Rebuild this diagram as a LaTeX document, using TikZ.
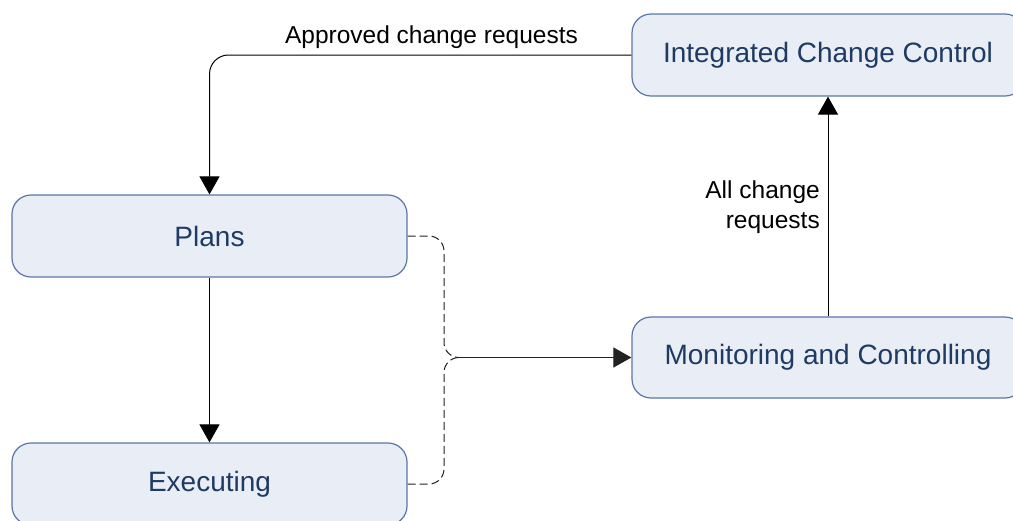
\documentclass[tikz,border=0pt]{standalone}
\usepackage{fontspec}
\setmainfont{Liberation Sans}
\usetikzlibrary{arrows.meta}
\definecolor{boxfill}{HTML}{E9EDF5}
\definecolor{boxline}{HTML}{5A76A8}
\definecolor{boxtext}{HTML}{1F3B64}
\definecolor{dashcol}{HTML}{222222}
\tikzset{
  procbox/.style={draw=boxline, line width=1.2pt, fill=boxfill, rounded corners=19pt,
    text=boxtext, font=\fontsize{28}{34}\selectfont, inner sep=0pt},
  lbl/.style={font=\fontsize{24.5}{30}\selectfont, text=black, inner sep=0pt},
  conn/.style={draw=black, line width=1pt, -{Triangle[length=18pt,width=20pt]}},
  dconn/.style={draw=dashcol, line width=1pt, dash pattern=on 8pt off 4pt, rounded corners=15pt},
}
\begin{document}
\begin{tikzpicture}[x=1pt,y=-1pt]
\useasboundingbox (0,0) rectangle (1013,520);
\clip (0,0) rectangle (1013,520);
\node[procbox, minimum width=395pt, minimum height=82pt] (plans) at (209.5,236) {Plans};
\node[procbox, minimum width=395pt, minimum height=82pt] (exec) at (209.5,484) {Executing};
\node[procbox, minimum width=392pt, minimum height=82pt] (icc) at (828,55) {Integrated Change Control};
\node[procbox, minimum width=392pt, minimum height=81pt] (mon) at (828,357.5) {Monitoring and Controlling};
\coordinate (bend) at (444,357.5);
\coordinate (merge) at (459,357.5);
% approved change requests
\draw[conn, rounded corners=19pt] (icc.west) -- (plans.north |- icc.west) -- (plans.north);
\node[lbl, anchor=base] (apr) at (431.5,43) {Approved change requests};
% plans -> executing
\draw[conn] (plans.south) -- (exec.north);
% monitoring -> icc
\draw[conn] (mon.north) -- (mon.north |- icc.south);
\node[lbl, anchor=east, align=right] (acr) at (820,207) {All change\\requests};
% dashed merge
\draw[dconn] (plans.east) -- (bend |- plans.east) -- (bend) -- (merge);
\draw[dconn] (exec.east) -- (bend |- exec.east) -- (bend) -- (merge);
\draw[conn, draw=dashcol, fill=black] (merge) -- (mon.west);
\end{tikzpicture}
\end{document}
